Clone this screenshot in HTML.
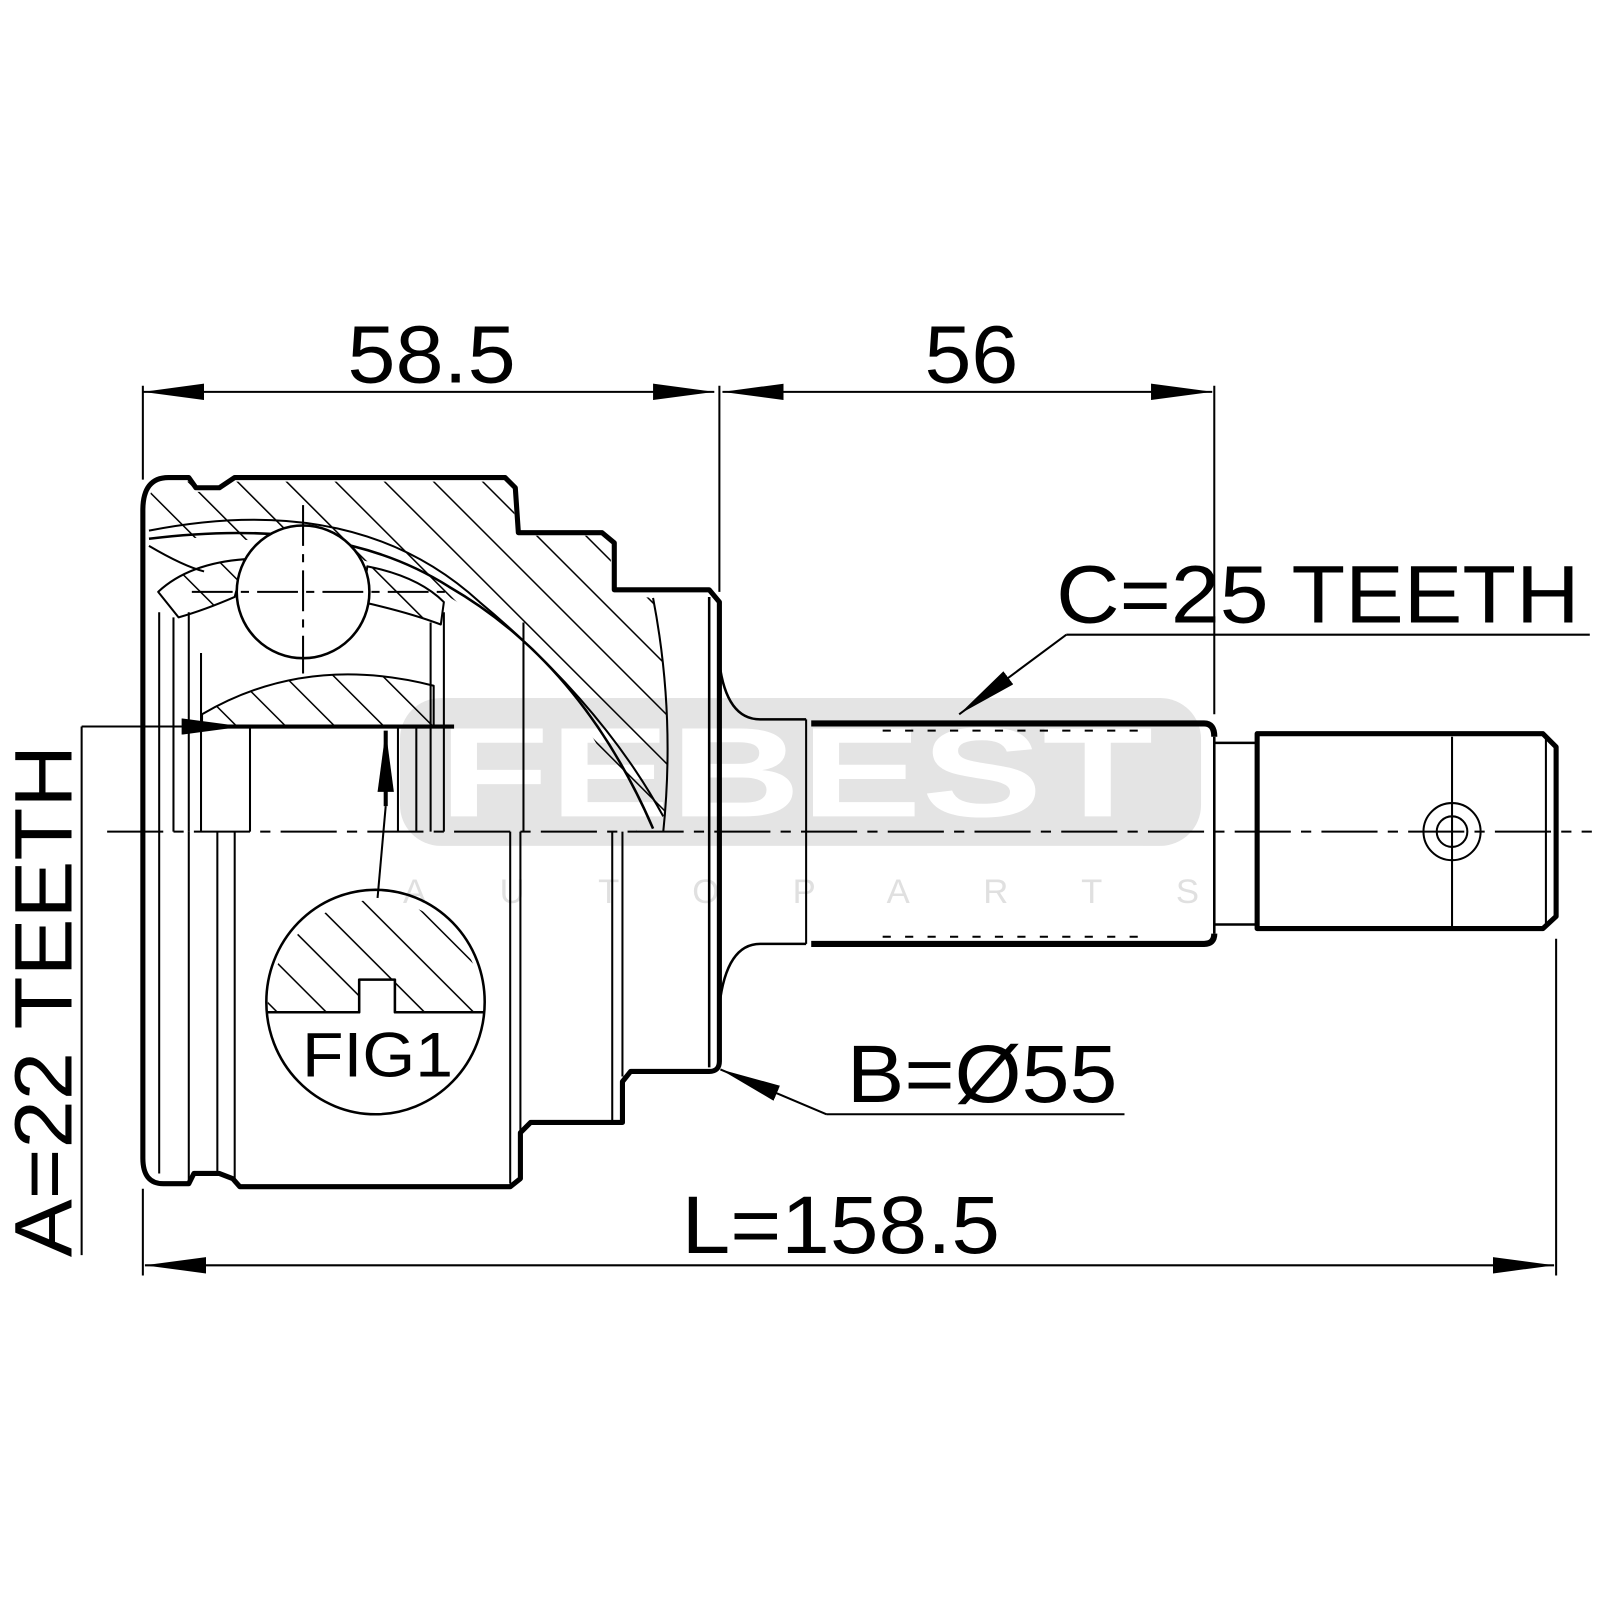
<!DOCTYPE html>
<html><head><meta charset="utf-8"><style>html,body{margin:0;padding:0;background:#fff}svg{display:block}</style></head>
<body>
<svg width="1600" height="1600" viewBox="0 0 1568 1568" xmlns="http://www.w3.org/2000/svg" font-family="Liberation Sans, Arial, sans-serif">
<defs>
<pattern id="h" patternUnits="userSpaceOnUse" width="34" height="34" patternTransform="rotate(-45)">
<line x1="0" y1="0" x2="0" y2="34" stroke="#000" stroke-width="3"/>
</pattern>
<marker id="b" viewBox="0 0 60 16" refX="60" refY="8" markerWidth="60" markerHeight="16" markerUnits="userSpaceOnUse" orient="auto-start-reverse"><path d="M0,0 L60,8 L0,16 Z" fill="#000"/></marker>
</defs>
<rect width="1568" height="1568" fill="#fff"/>
<!-- watermark -->
<rect x="392" y="684" width="785" height="145" rx="40" fill="#e4e4e4"/>
<text x="780" y="800" text-anchor="middle" font-size="125" font-weight="bold" fill="#fff" textLength="700" lengthAdjust="spacingAndGlyphs">FEBEST</text>
<text x="785" y="885" text-anchor="middle" font-size="34" fill="#e0e0e0" textLength="780" lengthAdjust="spacing">AUTOPARTS</text>

<g fill="none" stroke="#000" stroke-linejoin="round">
<path d="M145,500 Q145,472 165,472 L185,472 L192,482 L215,482 L230,472 L495,472 L503,480 L505,525 L588,525 L598,535 L600,582 L640,586 Q662,700 650,815 L624,815 Q570,660 440,585 Q330,520 146,528 Z" fill="url(#h)" stroke="none"/>
<path d="M198,700 Q300,640 425,672 L425,712 L198,712 Z" fill="url(#h)" stroke-width="2"/>
<path d="M155,580 Q185,552 240,548 L230,585 Q200,598 175,605 Z" fill="url(#h)" stroke-width="2"/>
<path d="M360,555 Q410,565 435,590 L432,612 Q400,600 355,590 Z" fill="url(#h)" stroke-width="2"/>

<path d="M140,815 L140,500 Q140,468 165,468 L185,468 L192,478 L215,478 L230,468 L495,468 L505,478 L508,522 L590,522 L602,532 L602,578 L695,578 L705,590 L705,1040 Q705,1050 695,1050 L618,1050 L610,1060 L610,1100 L520,1100 L510,1110 L510,1155 L500,1163 L235,1163 L228,1155 L215,1150 L190,1150 L185,1160 L160,1160 Q140,1160 140,1135 Z" stroke-width="5"/>
<line x1="695" y1="585" x2="695" y2="1046" stroke-width="2.5"/>
<path d="M146,528 Q330,505 440,575 Q570,650 640,812" stroke-width="2.5"/>
<path d="M146,520 Q350,480 470,590 Q590,690 650,800" stroke-width="2"/>
<path d="M640,586 Q662,700 650,815" stroke-width="2"/>
<path d="M146,535 Q180,555 200,560" stroke-width="2"/>
<circle cx="297" cy="580" r="65" fill="#fff" stroke-width="2.5"/>
<line x1="297" y1="495" x2="297" y2="660" stroke-width="2" stroke-dasharray="40,8,8,8"/>
<line x1="188" y1="580" x2="440" y2="580" stroke-width="2" stroke-dasharray="40,8,8,8"/>
<g stroke-width="2">
<line x1="156" y1="600" x2="156" y2="815"/><line x1="170" y1="605" x2="170" y2="815"/>
<line x1="185" y1="600" x2="185" y2="815"/><line x1="197" y1="640" x2="197" y2="815"/>
<line x1="245" y1="712" x2="245" y2="815"/><line x1="390" y1="712" x2="390" y2="815"/>
<line x1="408" y1="712" x2="408" y2="815"/><line x1="422" y1="610" x2="422" y2="815"/>
<line x1="435" y1="600" x2="435" y2="815"/><line x1="513" y1="610" x2="513" y2="815"/>
<line x1="156" y1="815" x2="156" y2="1150"/><line x1="185" y1="815" x2="185" y2="1160"/>
<line x1="213" y1="815" x2="213" y2="1150"/><line x1="230" y1="815" x2="230" y2="1160"/>
<line x1="500" y1="815" x2="500" y2="1160"/><line x1="510" y1="815" x2="510" y2="1108"/>
<line x1="600" y1="815" x2="600" y2="1100"/><line x1="610" y1="815" x2="610" y2="1055"/>
</g>
<line x1="198" y1="712" x2="445" y2="712" stroke-width="4"/>

<path d="M705,650 Q712,705 745,705 L790,705 M705,985 Q712,925 745,925 L790,925" stroke-width="2.5"/>
<line x1="790" y1="705" x2="790" y2="925" stroke-width="2"/>
<path d="M795,709 L1180,709 Q1190,709 1190,722 M1190,915 Q1190,925 1180,925 L795,925" stroke-width="6"/>
<line x1="1190" y1="722" x2="1190" y2="915" stroke-width="2.5"/>
<path d="M1190,728 L1230,728 M1190,906 L1230,906" stroke-width="2.5"/>
<path d="M1232,719 L1512,719 L1525,732 L1525,898 L1512,910 L1232,910 Z" stroke-width="5"/>
<line x1="1232" y1="719" x2="1232" y2="910" stroke-width="2"/>
<line x1="1515" y1="722" x2="1515" y2="908" stroke-width="2"/>
<line x1="1423" y1="722" x2="1423" y2="908" stroke-width="2"/>
<circle cx="1423" cy="815" r="28" stroke-width="2"/><circle cx="1423" cy="815" r="15" stroke-width="2"/>
<g stroke-width="2" stroke-dasharray="8,14"><line x1="865" y1="716" x2="1120" y2="716"/><line x1="865" y1="918" x2="1120" y2="918"/></g>

<line x1="105" y1="815" x2="1560" y2="815" stroke-width="2" stroke-dasharray="55,10,10,10"/>

<g stroke-width="2">
<line x1="140" y1="378" x2="140" y2="470"/><line x1="705" y1="378" x2="705" y2="580"/><line x1="1190" y1="378" x2="1190" y2="700"/>
<line x1="140" y1="384" x2="700" y2="384" marker-start="url(#b)" marker-end="url(#b)"/>
<line x1="708" y1="384" x2="1188" y2="384" marker-start="url(#b)" marker-end="url(#b)"/>
<line x1="140" y1="1165" x2="140" y2="1250"/><line x1="1525" y1="920" x2="1525" y2="1250"/>
<line x1="142" y1="1240" x2="1523" y2="1240" marker-start="url(#b)" marker-end="url(#b)"/>
<line x1="80" y1="712" x2="80" y2="1230"/>
<line x1="80" y1="712" x2="238" y2="712" marker-end="url(#b)"/>
<line x1="378" y1="790" x2="378" y2="716" stroke-width="4" marker-end="url(#b)"/>
<line x1="378" y1="790" x2="370" y2="880"/>
<line x1="1558" y1="622" x2="1045" y2="622"/>
<line x1="1045" y1="622" x2="940" y2="700" marker-end="url(#b)"/>
<line x1="1102" y1="1092" x2="810" y2="1092"/>
<line x1="810" y1="1092" x2="706" y2="1048" marker-end="url(#b)"/>
</g>

<path d="M262,992 A106,110 0 0 1 474,992 Z" fill="url(#h)" stroke="none"/>
<path d="M352,993 L352,960 L387,960 L387,993 Z" fill="#fff" stroke="none"/>
<ellipse cx="368" cy="982" rx="107" ry="110" stroke-width="2.5"/>
<path d="M262,992 L352,992 L352,960 L387,960 L387,992 L474,992" stroke-width="2.5"/>
</g>

<g fill="#000">
<text x="423" y="375" text-anchor="middle" font-size="80" textLength="165" lengthAdjust="spacingAndGlyphs">58.5</text>
<text x="952" y="375" text-anchor="middle" font-size="80" textLength="92" lengthAdjust="spacingAndGlyphs">56</text>
<text x="1035" y="610" font-size="80" textLength="513" lengthAdjust="spacingAndGlyphs">C=25 TEETH</text>
<text x="830" y="1080" font-size="80" textLength="265" lengthAdjust="spacingAndGlyphs">B=Ø55</text>
<text x="668" y="1228" font-size="80" textLength="312" lengthAdjust="spacingAndGlyphs">L=158.5</text>
<text x="296" y="1055" font-size="62" textLength="148" lengthAdjust="spacingAndGlyphs">FIG1</text>
<text transform="translate(70,1232) rotate(-90)" font-size="80" textLength="502" lengthAdjust="spacingAndGlyphs">A=22 TEETH</text>
</g>
</svg>
</body></html>
